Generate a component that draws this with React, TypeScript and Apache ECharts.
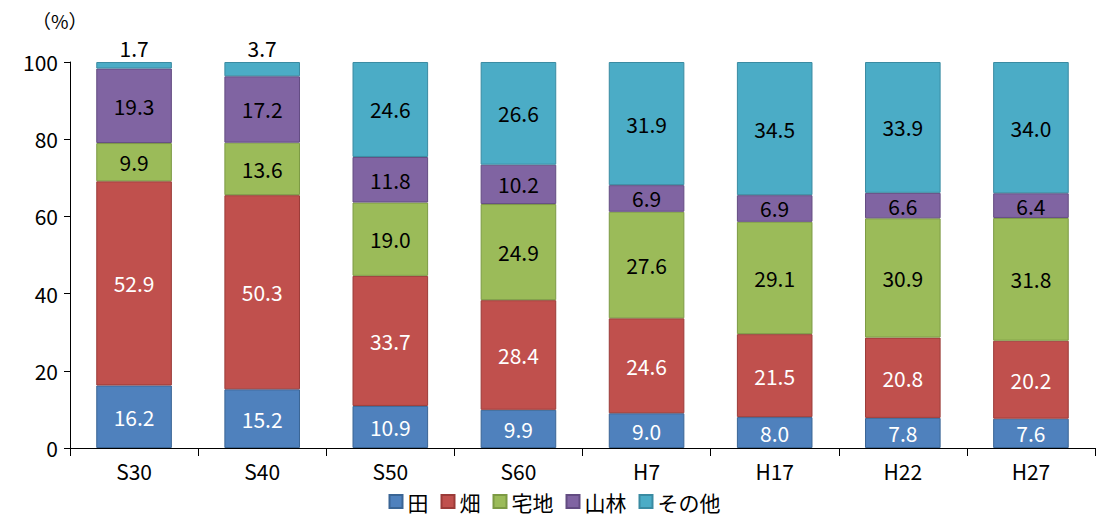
import { useRef, useEffect } from "react";
import * as echarts from "echarts";

const categories = ["S30", "S40", "S50", "S60", "H7", "H17", "H22", "H27"];
const seriesNames = ["田", "畑", "宅地", "山林", "その他"];
const ta = [16.2, 15.2, 10.9, 9.9, 9.0, 8.0, 7.8, 7.6];
const hatake = [52.9, 50.3, 33.7, 28.4, 24.6, 21.5, 20.8, 20.2];
const takuchi = [9.9, 13.6, 19.0, 24.9, 27.6, 29.1, 30.9, 31.8];
const sanrin = [19.3, 17.2, 11.8, 10.2, 6.9, 6.9, 6.6, 6.4];
const sonota = [1.7, 3.7, 24.6, 26.6, 31.9, 34.5, 33.9, 34.0];

const colors = ["#4f81bd", "#c0504d", "#9bbb59", "#8064a2", "#4bacc6"];
const borders = ["#3a6595", "#9b3b38", "#7c9a44", "#634c82", "#3a8ba2"];
const labelColors = ["#fff", "#fff", "#000", "#000", "#000"];
const font = "'Noto Sans CJK JP', 'Noto Sans', sans-serif";

const App = () => {
  const chartRef = useRef<HTMLDivElement>(null);
  useEffect(() => {
    if (!chartRef.current) return;
    const chart = echarts.init(chartRef.current, null, { renderer: "svg" });
    const all = [ta, hatake, takuchi, sanrin, sonota];
    chart.setOption({
      animation: false,
      textStyle: { fontFamily: font },
      grid: { left: 62, right: 6, top: 54, bottom: 71 },
      legend: {
        top: 478,
        left: "center",
        itemWidth: 13,
        itemHeight: 13,
        itemGap: 12,
        icon: "rect",
        textStyle: { fontSize: 21, color: "#000" },
        data: seriesNames,
      },
      graphic: [
        { type: "text", left: 24, top: 3, style: { text: "（%）", fontSize: 19, fill: "#000", fontFamily: font } },
      ],
      xAxis: {
        type: "category",
        data: categories,
        axisLine: { lineStyle: { color: "#000" } },
        axisTick: { show: true, length: 8, lineStyle: { color: "#000" } },
        axisLabel: { color: "#000", fontSize: 21, margin: 12 },
      },
      yAxis: {
        type: "value",
        min: 0,
        max: 100,
        interval: 20,
        splitLine: { show: false },
        axisLine: { show: true, lineStyle: { color: "#000" } },
        axisTick: { show: true, length: 6, lineStyle: { color: "#000" } },
        axisLabel: { color: "#000", fontSize: 21, margin: 12 },
      },
      series: all.map((vals, i) => ({
        name: seriesNames[i],
        type: "bar",
        stack: "a",
        barWidth: "59%",
        itemStyle: { color: colors[i], borderColor: borders[i], borderWidth: 1 },
        label: {
          show: true,
          position: "inside",
          color: labelColors[i],
          fontSize: 21,
          formatter: (p: any) => p.value.toFixed(1),
        },
        data: vals.map((v) =>
          v < 5 && i === 4
            ? { value: v, label: { position: "top", distance: 4, color: "#000" } }
            : v
        ),
      })),
    });
    return () => chart.dispose();
  }, []);
  return <div ref={chartRef} style={{ width: 1093, height: 511 }}></div>;
};

export default App;
